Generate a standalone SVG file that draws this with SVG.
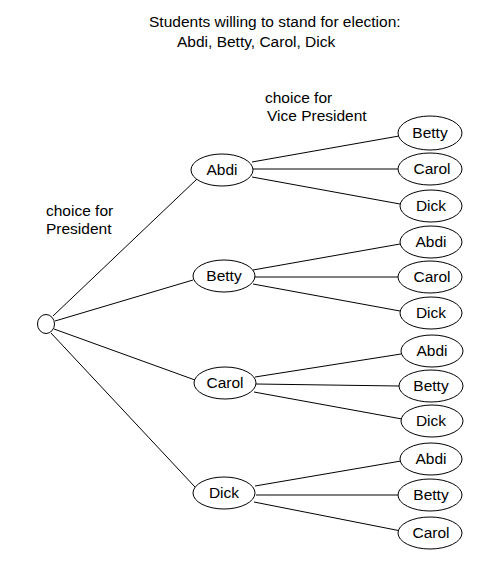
<svg xmlns="http://www.w3.org/2000/svg" width="488" height="572" viewBox="0 0 488 572">
<style>
text{font-family:"Liberation Sans",Arial,sans-serif;font-size:15.5px;fill:#000}
.n ellipse{fill:#fff;stroke:#000;stroke-width:1}
.n text{text-anchor:middle}
#connectors line{stroke:#000;stroke-width:1}
</style>
<rect width="488" height="572" fill="#fff"/>
<text x="149" y="27">Students willing to stand for election:</text>
<text x="177" y="47">Abdi, Betty, Carol, Dick</text>
<text x="265" y="103">choice for</text>
<text x="267" y="121">Vice President</text>
<text x="46" y="216">choice for</text>
<text x="46" y="234">President</text>
<g id="connectors">
<line x1="53" y1="316" x2="197" y2="179"/>
<line x1="55" y1="321" x2="193" y2="280"/>
<line x1="54" y1="329" x2="195" y2="380"/>
<line x1="51" y1="333" x2="195" y2="487"/>
<line x1="252" y1="162" x2="399" y2="136"/>
<line x1="253" y1="169" x2="398" y2="169"/>
<line x1="252" y1="177" x2="400" y2="204"/>
<line x1="253" y1="270" x2="400" y2="244"/>
<line x1="254" y1="277" x2="398" y2="277"/>
<line x1="253" y1="284" x2="400" y2="311"/>
<line x1="255" y1="377" x2="401" y2="354"/>
<line x1="256" y1="384" x2="399" y2="386"/>
<line x1="254" y1="392" x2="402" y2="419"/>
<line x1="255" y1="486" x2="401" y2="461"/>
<line x1="256" y1="495" x2="399" y2="495"/>
<line x1="254" y1="502" x2="401" y2="531"/>
</g>
<g id="root" class="n"><ellipse cx="46" cy="324" rx="8.5" ry="9.5"/></g>
<g id="p-abdi" class="n"><ellipse cx="222" cy="170" rx="31" ry="16"/><text x="222" y="175">Abdi</text></g>
<g id="p-betty" class="n"><ellipse cx="224" cy="276" rx="31" ry="16"/><text x="224" y="281">Betty</text></g>
<g id="p-carol" class="n"><ellipse cx="225" cy="383" rx="31" ry="16"/><text x="225" y="388">Carol</text></g>
<g id="p-dick" class="n"><ellipse cx="224" cy="493" rx="31" ry="16"/><text x="224" y="498">Dick</text></g>
<g id="v-abdi-betty" class="n"><ellipse cx="430" cy="133" rx="32" ry="17"/><text x="430" y="138">Betty</text></g>
<g id="v-abdi-carol" class="n"><ellipse cx="430" cy="169" rx="32" ry="16"/><text x="432" y="174">Carol</text></g>
<g id="v-abdi-dick" class="n"><ellipse cx="431" cy="206" rx="31" ry="16"/><text x="431" y="211">Dick</text></g>
<g id="v-betty-abdi" class="n"><ellipse cx="431" cy="242" rx="31" ry="16"/><text x="431" y="247">Abdi</text></g>
<g id="v-betty-carol" class="n"><ellipse cx="430" cy="277" rx="32" ry="16"/><text x="432" y="282">Carol</text></g>
<g id="v-betty-dick" class="n"><ellipse cx="431" cy="313" rx="31" ry="16"/><text x="431" y="318">Dick</text></g>
<g id="v-carol-abdi" class="n"><ellipse cx="432" cy="351" rx="31" ry="16"/><text x="432" y="356">Abdi</text></g>
<g id="v-carol-betty" class="n"><ellipse cx="431" cy="386" rx="32" ry="16"/><text x="431" y="391">Betty</text></g>
<g id="v-carol-dick" class="n"><ellipse cx="432" cy="421" rx="31" ry="16"/><text x="431" y="426">Dick</text></g>
<g id="v-dick-abdi" class="n"><ellipse cx="431" cy="459" rx="31" ry="16"/><text x="431" y="464">Abdi</text></g>
<g id="v-dick-betty" class="n"><ellipse cx="430" cy="495" rx="32" ry="16"/><text x="431" y="500">Betty</text></g>
<g id="v-dick-carol" class="n"><ellipse cx="430" cy="533" rx="32" ry="16"/><text x="431" y="538">Carol</text></g>
</svg>
